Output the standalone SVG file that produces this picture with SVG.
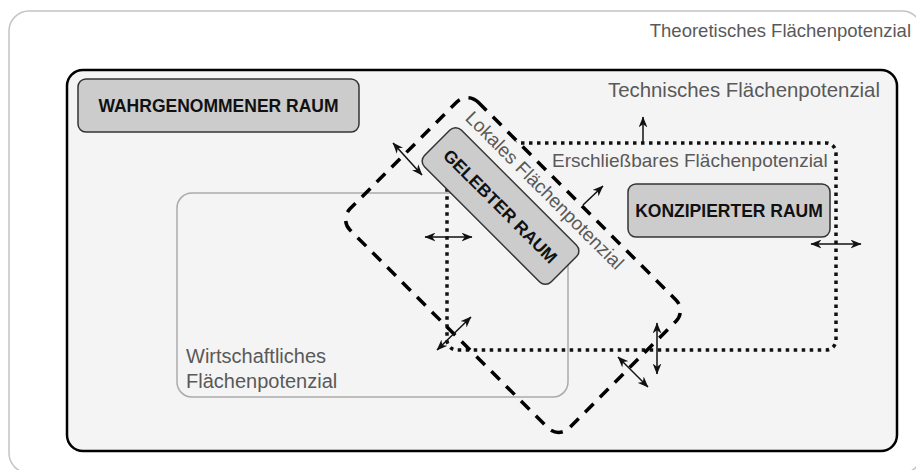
<svg xmlns="http://www.w3.org/2000/svg" width="916" height="470" viewBox="0 0 916 470">
<defs>
<style>
.lbl{font-family:"Liberation Sans",Arial,sans-serif;fill:#595959;font-size:20px}
.bold{font-family:"Liberation Sans",Arial,sans-serif;font-weight:bold;fill:#111;font-size:17.5px;text-anchor:middle}
.box{fill:#cccccc;stroke:#333;stroke-width:1.5}
.arr{stroke:#111;stroke-width:1.5;fill:none}
</style>
<marker id="ah" viewBox="0 0 10 8" refX="9.5" refY="4" markerWidth="11" markerHeight="9" markerUnits="userSpaceOnUse" orient="auto-start-reverse">
<path d="M0,0 L10,4 L0,8 L3,4 z" fill="#111"/>
</marker>
</defs>
<rect x="0" y="0" width="916" height="470" fill="#ffffff"/>
<g id="theoretisch">
<rect x="9" y="11" width="913" height="462" rx="20" fill="#ffffff" stroke="#c4c4c4" stroke-width="1.5"/>
<text class="lbl" x="911" y="37" text-anchor="end" style="font-size:18.5px">Theoretisches Flächenpotenzial</text>
</g>
<g id="technisch">
<rect x="67" y="70" width="830" height="381" rx="16" fill="#f4f4f4" stroke="#000" stroke-width="2.5"/>
<text class="lbl" x="880" y="97" text-anchor="end" style="font-size:20.4px">Technisches Flächenpotenzial</text>
</g>
<g id="wirtschaftlich">
<rect x="177" y="193" width="391" height="204" rx="15" fill="none" stroke="#aaaaaa" stroke-width="1.5"/>
<text class="lbl" x="186" y="363">Wirtschaftliches</text>
<text class="lbl" x="186" y="388">Flächenpotenzial</text>
</g>
<g id="erschliessbar">
<rect x="447" y="143" width="389" height="207" rx="10" fill="none" stroke="#111" stroke-width="3.5" stroke-dasharray="3.5 4.5"/>
<text class="lbl" x="552" y="167" style="font-size:19px">Erschließbares Flächenpotenzial</text>
</g>
<g id="lokal">
<rect x="-118" y="-13.4" width="236" height="30.4" fill="#f4f4f4" transform="translate(545,190) rotate(45)"/>
<rect x="-155" y="-90.5" width="310" height="181" rx="15" fill="none" stroke="#000" stroke-width="3.5" stroke-dasharray="12 9" transform="translate(513,265) rotate(45)"/>
<text class="lbl" x="0" y="7" text-anchor="middle" style="font-size:19px" transform="translate(545,190) rotate(45)">Lokales Flächenpotenzial</text>
</g>
<g id="gelebter-raum">
<rect class="box" x="-89.5" y="-26" width="179" height="52" rx="8" transform="translate(500.5,206) rotate(45)"/>
<text class="bold" x="0" y="6.5" transform="translate(500.5,206) rotate(45)">GELEBTER RAUM</text>
</g>
<g id="wahrgenommener-raum">
<rect class="box" x="78" y="79" width="281" height="53" rx="8"/>
<text class="bold" x="218.5" y="112">WAHRGENOMMENER RAUM</text>
</g>
<g id="konzipierter-raum">
<rect class="box" x="628" y="184" width="202" height="53" rx="8"/>
<text class="bold" x="729" y="217">KONZIPIERTER RAUM</text>
</g>
<g id="connectors">
<line class="arr" x1="393" y1="143" x2="422" y2="175" marker-start="url(#ah)" marker-end="url(#ah)"/>
<line class="arr" x1="425" y1="237" x2="472" y2="237" marker-start="url(#ah)" marker-end="url(#ah)"/>
<line class="arr" x1="643" y1="143" x2="643" y2="117" marker-end="url(#ah)"/>
<line class="arr" x1="583" y1="205" x2="603" y2="186" marker-end="url(#ah)"/>
<line class="arr" x1="811" y1="244" x2="861" y2="244" marker-start="url(#ah)" marker-end="url(#ah)"/>
<line class="arr" x1="437" y1="350" x2="471" y2="317" marker-start="url(#ah)" marker-end="url(#ah)"/>
<line class="arr" x1="618" y1="357" x2="648" y2="387" marker-start="url(#ah)" marker-end="url(#ah)"/>
<line class="arr" x1="657" y1="323" x2="657" y2="374" marker-start="url(#ah)" marker-end="url(#ah)"/>
</g>
</svg>
